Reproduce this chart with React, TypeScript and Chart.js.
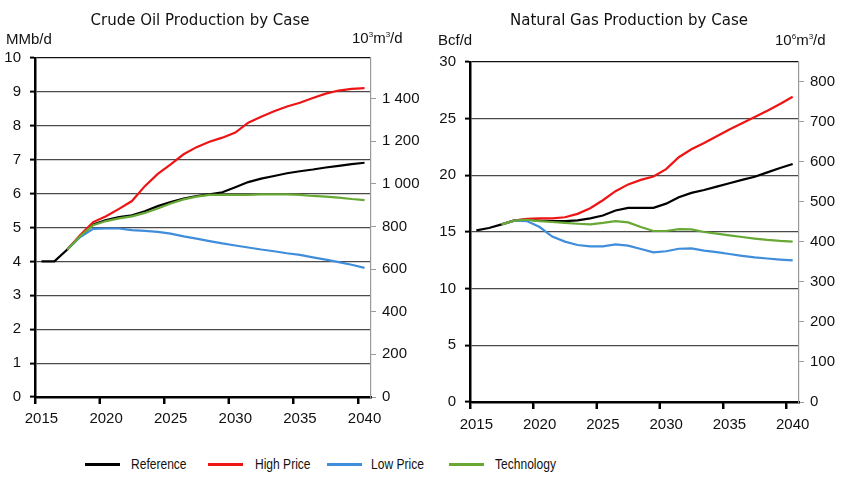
import React, { useEffect, useRef } from "react";
import { Chart, registerables } from "chart.js";

Chart.register(...registerables);

const years = [2015, 2016, 2017, 2018, 2019, 2020, 2021, 2022, 2023, 2024, 2025, 2026, 2027, 2028, 2029, 2030, 2031, 2032, 2033, 2034, 2035, 2036, 2037, 2038, 2039, 2040];
const xTickLabels = [2015, 2020, 2025, 2030, 2035, 2040];

const oilReference = [4.0, 4.0, 4.35, 4.75, 5.09, 5.22, 5.31, 5.36, 5.48, 5.63, 5.75, 5.85, 5.93, 5.98, 6.04, 6.19, 6.34, 6.44, 6.52, 6.6, 6.66, 6.71, 6.77, 6.82, 6.87, 6.91];
const oilHigh = [null, null, 4.35, 4.78, 5.16, 5.33, 5.55, 5.78, 6.22, 6.58, 6.86, 7.16, 7.37, 7.53, 7.65, 7.8, 8.09, 8.27, 8.43, 8.57, 8.68, 8.82, 8.95, 9.04, 9.09, 9.11];
const oilLow = [null, null, 4.35, 4.72, 4.96, 4.97, 4.97, 4.92, 4.9, 4.87, 4.82, 4.74, 4.67, 4.6, 4.53, 4.47, 4.41, 4.35, 4.3, 4.24, 4.19, 4.12, 4.05, 3.98, 3.9, 3.81];
const oilTech = [null, null, 4.35, 4.75, 5.07, 5.19, 5.27, 5.33, 5.43, 5.56, 5.71, 5.83, 5.91, 5.96, 5.96, 5.96, 5.96, 5.98, 5.98, 5.98, 5.96, 5.93, 5.91, 5.88, 5.84, 5.81];

const gasReference = [15.15, 15.35, 15.67, 16.02, 16.1, 16.0, 15.96, 15.96, 16.02, 16.2, 16.46, 16.9, 17.13, 17.13, 17.13, 17.5, 18.07, 18.45, 18.71, 19.0, 19.3, 19.6, 19.88, 20.26, 20.64, 21.0];
const gasHigh = [null, null, 15.67, 16.0, 16.15, 16.2, 16.2, 16.3, 16.6, 17.1, 17.8, 18.6, 19.2, 19.6, 19.9, 20.55, 21.6, 22.3, 22.85, 23.45, 24.05, 24.6, 25.15, 25.7, 26.3, 26.93];
const gasLow = [null, null, 15.67, 16.0, 15.96, 15.44, 14.6, 14.15, 13.85, 13.74, 13.74, 13.9, 13.8, 13.5, 13.21, 13.3, 13.52, 13.55, 13.36, 13.22, 13.06, 12.9, 12.76, 12.66, 12.57, 12.5];
const gasTech = [null, null, 15.67, 16.0, 16.08, 15.96, 15.88, 15.8, 15.73, 15.67, 15.8, 15.96, 15.85, 15.44, 15.09, 15.09, 15.26, 15.23, 15.0, 14.85, 14.7, 14.56, 14.42, 14.3, 14.21, 14.15];

const oilLeftTicks = [0, 1, 2, 3, 4, 5, 6, 7, 8, 9, 10];
const oilRightTicks = [0, 200, 400, 600, 800, 1000, 1200, 1400];
const gasLeftTicks = [0, 5, 10, 15, 20, 25, 30];
const gasRightTicks = [0, 100, 200, 300, 400, 500, 600, 700, 800];

const seriesNames = ["Reference", "High Price", "Low Price", "Technology"];
const seriesColors = ["#000000", "#ee1414", "#3f8ddb", "#67a934"];

const BBL_TO_M3 = 158.987; // MMb/d -> 10^3 m3/d
const BCF_TO_M3 = 28.3168; // Bcf/d -> 10^6 m3/d

const TICK_FONT = { family: "'Liberation Sans', Arial, sans-serif", size: 15 };
const X_TICK_LEN = 7;

function fmtSpace(v: number) {
  return String(Math.round(v)).replace(/\B(?=(\d{3})+(?!\d))/g, " ");
}

// Category-boundary tick marks on the x axis (Excel style: marks between categories)
const xBoundaryMarks = {
  id: "xBoundaryMarks",
  afterDraw(chart: any) {
    const sx = chart.scales.x;
    const area = chart.chartArea;
    if (!sx || !area) return;
    const ctx = chart.ctx;
    ctx.save();
    ctx.strokeStyle = "#000";
    ctx.lineWidth = 2;
    xTickLabels.forEach((v) => {
      const px = Math.round(sx.getPixelForValue(v - 0.5));
      ctx.beginPath();
      ctx.moveTo(px, area.bottom);
      ctx.lineTo(px, area.bottom + X_TICK_LEN);
      ctx.stroke();
    });
    ctx.restore();
  },
};

type Props = {
  left: number;
  width: number;
  height: number;
  series: (number | null)[][];
  leftTicks: number[];
  rightTicks: number[];
  rightFactor: number;
  leftW: number;
  rightW: number;
  topPad: number;
  bottomH: number;
  labelPad: number;
};

function LineChart(p: Props) {
  const ref = useRef<HTMLCanvasElement>(null);
  useEffect(() => {
    if (!ref.current) return;
    const yMax = p.leftTicks[p.leftTicks.length - 1];
    const datasets = p.series.map((vals, i) => ({
      label: seriesNames[i],
      data: years.map((y, j) => ({ x: y, y: vals[j] })),
      borderColor: seriesColors[i],
      backgroundColor: seriesColors[i],
      borderWidth: 2.2,
      pointRadius: 0,
      tension: 0,
      spanGaps: false,
      order: 3 - i,
      xAxisID: "x",
      yAxisID: "y",
    }));
    const chart = new Chart(ref.current, {
      type: "line",
      data: { datasets: datasets as any },
      plugins: [xBoundaryMarks],
      options: {
        animation: false,
        responsive: false,
        maintainAspectRatio: false,
        layout: { padding: { top: p.topPad, left: 0, right: 0, bottom: 0 } },
        plugins: { legend: { display: false }, title: { display: false }, tooltip: { enabled: false } },
        scales: {
          x: {
            type: "linear",
            position: "bottom",
            weight: 1,
            min: 2014.5,
            max: 2040.5,
            afterBuildTicks: (s: any) => {
              s.ticks = xTickLabels.map((v) => ({ value: v - 0.5 }));
            },
            afterFit: (s: any) => {
              s.height = X_TICK_LEN;
            },
            ticks: { display: false, autoSkip: false },
            grid: { drawOnChartArea: false, drawTicks: true, tickLength: X_TICK_LEN, tickColor: "#000", tickWidth: 2 },
            border: { color: "#000", width: 2.5 },
          },
          x2: {
            type: "linear",
            position: "bottom",
            weight: 2,
            min: 2014.5,
            max: 2040.5,
            afterBuildTicks: (s: any) => {
              s.ticks = xTickLabels.map((v) => ({ value: v }));
            },
            afterFit: (s: any) => {
              s.height = p.bottomH - X_TICK_LEN;
            },
            ticks: {
              callback: (v: any) => String(Math.round(Number(v))),
              font: TICK_FONT,
              color: "#111",
              padding: p.labelPad,
              maxRotation: 0,
              autoSkip: false,
            },
            grid: { display: false, drawTicks: false, tickLength: 0 },
            border: { display: false },
          },
          y: {
            type: "linear",
            position: "left",
            min: 0,
            max: yMax,
            afterBuildTicks: (s: any) => {
              s.ticks = p.leftTicks.map((v) => ({ value: v }));
            },
            afterFit: (s: any) => {
              s.width = p.leftW;
            },
            ticks: { font: TICK_FONT, color: "#111", padding: 9, callback: (v: any) => String(v) },
            grid: {
              color: (c: any) => (c.tick && c.tick.value === yMax ? "#111" : "#4a4a4a"),
              lineWidth: 1.2,
              tickColor: "#000",
              tickLength: 5,
              tickWidth: 2,
            },
            border: { color: "#000", width: 2.5 },
          },
          y1: {
            type: "linear",
            position: "right",
            min: 0,
            max: yMax * p.rightFactor,
            afterBuildTicks: (s: any) => {
              s.ticks = p.rightTicks.map((v) => ({ value: v }));
            },
            afterFit: (s: any) => {
              s.width = p.rightW;
            },
            ticks: { font: TICK_FONT, color: "#111", padding: 6, callback: (v: any) => fmtSpace(Number(v)) },
            grid: { drawOnChartArea: false, tickColor: "#999", tickLength: 5, tickWidth: 1 },
            border: { color: "#999", width: 1.2 },
          },
        },
      },
    });
    return () => chart.destroy();
  }, []);
  return (
    <canvas
      ref={ref}
      width={p.width}
      height={p.height}
      style={{ position: "absolute", left: p.left, top: 0, width: p.width, height: p.height }}
    />
  );
}

const textBase: React.CSSProperties = {
  position: "absolute",
  whiteSpace: "nowrap",
  color: "#111",
  lineHeight: "18px",
};

const titleFont = "'DejaVu Sans', sans-serif";
const labelFont = "'Liberation Sans', Arial, sans-serif";
const supStyle: React.CSSProperties = { fontSize: 8, verticalAlign: "6px", lineHeight: 0 };

export default function App() {
  const legendLines = [85, 208, 327, 449];
  const legendTexts = [131, 255, 371, 495];
  return (
    <div style={{ position: "absolute", left: 0, top: 0, width: 846, height: 484, background: "#fff", overflow: "hidden" }}>
      <LineChart
        left={0}
        width={423}
        height={440}
        series={[oilReference, oilHigh, oilLow, oilTech]}
        leftTicks={oilLeftTicks}
        rightTicks={oilRightTicks}
        rightFactor={BBL_TO_M3}
        leftW={35}
        rightW={52}
        topPad={58}
        bottomH={43}
        labelPad={6}
      />
      <LineChart
        left={423}
        width={423}
        height={440}
        series={[gasReference, gasHigh, gasLow, gasTech]}
        leftTicks={gasLeftTicks}
        rightTicks={gasRightTicks}
        rightFactor={BCF_TO_M3}
        leftW={47}
        rightW={47}
        topPad={62}
        bottomH={38}
        labelPad={7}
      />
      <div style={{ ...textBase, left: 0, width: 400, top: 11, textAlign: "center", fontFamily: titleFont, fontSize: 15 }}>
        Crude Oil Production by Case
      </div>
      <div style={{ ...textBase, left: 429, width: 400, top: 11, textAlign: "center", fontFamily: titleFont, fontSize: 15 }}>
        Natural Gas Production by Case
      </div>
      <div style={{ ...textBase, left: 6, top: 30, fontFamily: labelFont, fontSize: 15 }}>MMb/d</div>
      <div style={{ ...textBase, left: 352, top: 29, fontFamily: labelFont, fontSize: 15 }}>
        10<sup style={supStyle}>3</sup>m<sup style={supStyle}>3</sup>/d
      </div>
      <div style={{ ...textBase, left: 438, top: 31, fontFamily: labelFont, fontSize: 15 }}>Bcf/d</div>
      <div style={{ ...textBase, left: 775, top: 31, fontFamily: labelFont, fontSize: 15 }}>
        10<sup style={supStyle}>6</sup>m<sup style={supStyle}>3</sup>/d
      </div>
      {seriesNames.map((n, i) => (
        <React.Fragment key={n}>
          <div
            style={{ position: "absolute", left: legendLines[i], top: 463, width: 35, height: 2.5, background: seriesColors[i] }}
          />
          <div
            style={{
              ...textBase,
              left: legendTexts[i],
              top: 455,
              fontFamily: labelFont,
              fontSize: 14,
              transform: "scaleX(0.86)",
              transformOrigin: "0 50%",
            }}
          >
            {n}
          </div>
        </React.Fragment>
      ))}
    </div>
  );
}
